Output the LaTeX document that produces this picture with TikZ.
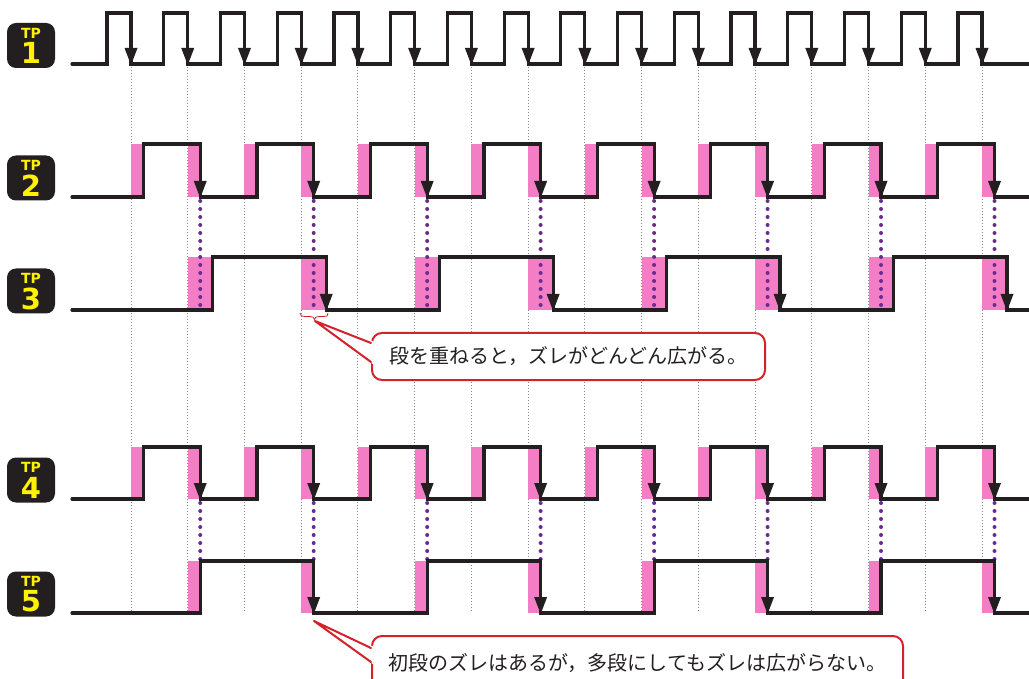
\documentclass[tikz,border=0pt]{standalone}
\usepackage{fontspec}
\newfontfamily\jpfont{Noto Sans CJK JP}
\newfontfamily\lblfont{DejaVu Sans}
\usetikzlibrary{calc}
\definecolor{ink}{HTML}{231F20}
\definecolor{pinkband}{HTML}{F47EC6}
\definecolor{dotpurple}{HTML}{6B2C8F}
\definecolor{calred}{HTML}{D2232A}
\definecolor{gridgray}{HTML}{8C8C8C}
\definecolor{tpyellow}{HTML}{FFF200}
\newcommand\arrhead[2]{\fill[ink] (#1,#2) -- ++(-6.5,-17) -- ++(13,0) -- cycle;}
\tikzset{
  wave/.style={draw=ink, line width=3.2pt, line cap=round, line join=miter},
  gridline/.style={draw=gridgray, line width=0.9pt, dash pattern=on 1pt off 2pt},
  purpledots/.style={draw=dotpurple, line width=4pt, line cap=round, dash pattern=on 0pt off 8pt},
  tpbox/.style={fill=ink, rounded corners=9pt, minimum width=48pt, minimum height=45pt, inner sep=0pt},
  tpsmall/.style={text=tpyellow, inner sep=0pt, font=\lblfont\bfseries\fontsize{14}{14}\selectfont},
  tpbig/.style={text=tpyellow, inner sep=0pt, font=\lblfont\bfseries\fontsize{29}{29}\selectfont},
  callbox/.style={draw=calred, line width=2pt, fill=white, rounded corners=10pt, inner sep=0pt,
    text=ink, font=\jpfont\fontsize{20}{24}\selectfont},
  callline/.style={draw=calred, line width=2pt, line join=round, line cap=round},
  bracestyle/.style={draw=calred, line width=0.8pt}
}
\begin{document}
\begin{tikzpicture}[x=1pt,y=-1pt]
\clip (0,0) rectangle (1029,679);
\fill[white] (0,0) rectangle (1029,679);

% grid lines at TP1 falling edges
\foreach \k in {0,...,15} \draw[gridline] ({131+56.733*\k},67) -- ({131+56.733*\k},612);

% pink delay bands
\foreach \k in {0,...,15} {
  \fill[pinkband] ({131+56.733*\k},144) rectangle ({143.5+56.733*\k},197);
  \fill[pinkband] ({131+56.733*\k},447) rectangle ({143.5+56.733*\k},499);
}
\foreach \k in {1,3,...,15} {
  \fill[pinkband] ({131+56.733*\k},257) rectangle ({156+56.733*\k},310);
  \fill[pinkband] ({131+56.733*\k},561) rectangle ({143.5+56.733*\k},613);
}

% purple dotted propagation lines
\foreach \k in {1,3,...,15} {
  \draw[purpledots] ({143.5+56.733*\k},201) -- ({143.5+56.733*\k},306);
  \draw[purpledots] ({143.5+56.733*\k},503) -- ({143.5+56.733*\k},559);
}

% TP1
\draw[wave] (72,64) \foreach \k in {0,...,15} {
  -- ({107+56.733*\k},64) -- ({107+56.733*\k},13) -- ({131+56.733*\k},13) -- ({131+56.733*\k},64)
} -- (1035,64);
\foreach \k in {0,...,15} {\arrhead{131+56.733*\k}{65}}

% TP2 and TP4
\foreach \yl/\yh in {197/144, 499/447} {
  \draw[wave] (72,\yl) \foreach \j in {0,...,7} {
    -- ({143.5+113.466*\j},\yl) -- ({143.5+113.466*\j},\yh) -- ({200.233+113.466*\j},\yh) -- ({200.233+113.466*\j},\yl)
  } -- (1035,\yl);
  \foreach \j in {0,...,7} {\arrhead{200.233+113.466*\j}{\yl+1}}
}

% TP3
\draw[wave] (72,310) \foreach \j in {0,...,3} {
  -- ({212.733+226.932*\j},310) -- ({212.733+226.932*\j},257) -- ({326.2+226.932*\j},257) -- ({326.2+226.932*\j},310)
} -- (1035,310);
\foreach \j in {0,...,3} {\arrhead{326.2+226.932*\j}{311}}

% TP5
\draw[wave] (72,613) \foreach \j in {0,...,3} {
  -- ({200.233+226.932*\j},613) -- ({200.233+226.932*\j},561) -- ({313.7+226.932*\j},561) -- ({313.7+226.932*\j},613)
} -- (1035,613);
\foreach \j in {0,...,3} {\arrhead{313.7+226.932*\j}{614}}

% TP labels
\foreach \n/\yl in {1/64.5, 2/197, 3/310, 4/499, 5/613} {
  \node[tpbox] (tp\n) at (31,\yl-19) {};
  \node[tpsmall] (tp\n t) at ($(tp\n.center)+(0,-12.5)$) {TP};
  \node[tpbig] (tp\n n) at ($(tp\n.center)+(0,7.5)$) {\n};
}

% brace under TP3 band
\draw[bracestyle] (300,313) .. controls (300,316) and (302,316.5) .. (305,316.5) -- (310,316.5)
  .. controls (313,316.5) and (314,317.5) .. (314.5,319.5)
  .. controls (315,317.5) and (316,316.5) .. (319,316.5) -- (324,316.5)
  .. controls (327,316.5) and (328,316) .. (328,313);

% callout 1
\node[callbox, minimum width=393pt, minimum height=47pt] (c1) at (568.5,356.5) {段を重ねると，ズレがどんどん広がる。};
\coordinate (tip1) at (315,321);
\fill[white] (tip1) -- ($(c1.west)+(2.5,-15)$) -- ($(c1.west)+(2.5,8)$) -- cycle;
\draw[callline] ($(c1.west)+(0,-13.5)$) -- (tip1) -- ($(c1.west)+(0,5.5)$);

% callout 2
\node[callbox, minimum width=531pt, minimum height=54pt] (c2) at (637.5,663) {初段のズレはあるが，多段にしてもズレは広がらない。};
\coordinate (tip2) at (314,621);
\fill[white] (tip2) -- ($(c2.west)+(2.5,-16.5)$) -- ($(c2.west)+(2.5,1.5)$) -- cycle;
\draw[callline] ($(c2.west)+(0,-15)$) -- (tip2) -- ($(c2.west)+(0,-1)$);
\end{tikzpicture}
\end{document}
